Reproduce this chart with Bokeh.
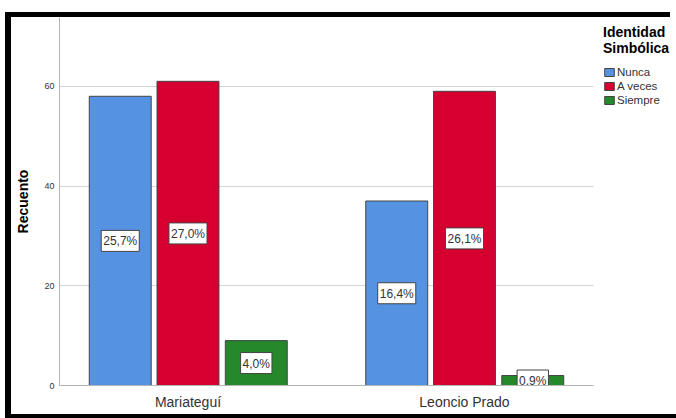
from bokeh.plotting import figure
from bokeh.models import (Range1d, FixedTicker, Legend, LegendItem, ColumnDataSource,
                          BoxAnnotation, GlobalInlineStyleSheet)
from bokeh.core.properties import value
from bokeh.embed import file_html
from bokeh.resources import INLINE
import numpy as np

# ---- data ----
categories = ["Mariateguí", "Leoncio Prado"]
series = ["Nunca", "A veces", "Siempre"]
nunca = [58, 37]
a_veces = [61, 59]
siempre = [9, 2]
nunca_pct = ["25,7%", "16,4%"]
a_veces_pct = ["27,0%", "26,1%"]
siempre_pct = ["4,0%", "0,9%"]
y_ticks = [0, 20, 40, 60]

colors = ["#5592E2", "#D5002F", "#25882B"]
offsets = [-0.245, 0.0, 0.247]
bar_w = 0.224
FONT = "Liberation Sans"

X0, X_DATA_END, X1 = -0.4647, 1.4666, 1.7668   # plot area ends at X_DATA_END

p = figure(width=665, height=397, output_backend="svg",
           toolbar_location=None,
           x_range=Range1d(X0, X1), y_range=Range1d(0, 73.8),
           min_border_left=48, min_border_right=0, min_border_top=0,
           min_border_bottom=29, margin=(17, 0, 0, 11))
# thick black frame around the chart (drawn as shadows, no layout effect)
p.styles = {"box-shadow": "-6px -5px 0 0 #000, 0 4px 0 0 #000, -6px 4px 0 0 #000",
            "overflow": "hidden"}
p.stylesheets = [GlobalInlineStyleSheet(css="html, body { overflow: hidden !important; }")]
p.outline_line_color = None
p.background_fill_color = "white"
p.border_fill_color = "white"

base_x = np.arange(len(categories))
items = []
for name, vals, pcts, col, off in zip(series, [nunca, a_veces, siempre],
                                      [nunca_pct, a_veces_pct, siempre_pct],
                                      colors, offsets):
    src = ColumnDataSource(dict(x=base_x + off, top=vals,
                                mid=np.array(vals) / 2.0, lab=pcts))
    r = p.vbar(x="x", top="top", width=bar_w, bottom=0, source=src,
               fill_color=col, line_color="#444444", line_width=1)
    items.append(LegendItem(label=name, renderers=[r]))
    p.text(x="x", y="mid", text="lab", source=src, text_align="center",
           text_baseline="middle", text_font=value(FONT), text_font_size="12px",
           text_color="#333333", background_fill_color="white",
           border_line_color="#444444", border_line_width=1,
           padding=dict(left=2, right=2, top=4, bottom=3))

# axes
p.xaxis.ticker = FixedTicker(ticks=list(base_x))
p.xaxis.major_label_overrides = {int(i): c for i, c in zip(base_x, categories)}
p.xaxis.bounds = (X0, X_DATA_END)
p.xaxis.major_label_text_font = FONT
p.xaxis.major_label_text_font_size = "14px"
p.xaxis.major_label_text_color = "#333333"
p.xaxis.major_label_standoff = 8
p.xaxis.major_tick_out = 0
p.xaxis.major_tick_in = 0
p.xaxis.minor_tick_out = 0
p.xaxis.minor_tick_in = 0
p.xaxis.axis_line_color = "#b4b4b4"

p.yaxis.ticker = FixedTicker(ticks=y_ticks)
p.yaxis.axis_label = "Recuento"
p.yaxis.axis_label_text_font = FONT
p.yaxis.axis_label_text_font_size = "14px"
p.yaxis.axis_label_text_font_style = "bold"
p.yaxis.axis_label_text_color = "#000000"
p.yaxis.axis_label_standoff = 10
p.yaxis.major_label_text_font = FONT
p.yaxis.major_label_text_font_size = "9px"
p.yaxis.major_label_text_color = "#333333"
p.yaxis.major_label_standoff = 5
p.yaxis.major_tick_out = 0
p.yaxis.major_tick_in = 0
p.yaxis.minor_tick_out = 0
p.yaxis.minor_tick_in = 0
p.yaxis.axis_line_color = "#b4b4b4"

p.xgrid.grid_line_color = None
p.ygrid.grid_line_color = "#d4d4d4"
p.ygrid.grid_line_width = 1

# white area right of the plot region (legend area)
mask = BoxAnnotation(left=X_DATA_END, fill_color="white", fill_alpha=1.0,
                     line_alpha=0)
p.add_layout(mask)

legend = Legend(items=items, location=(544, 279), title="Identidad\nSimbólica")
legend.title_text_font = FONT
legend.title_text_font_size = "14px"
legend.title_text_font_style = "bold"
legend.title_text_color = "#000000"
legend.title_standoff = 10
legend.label_text_font = FONT
legend.label_text_font_size = "11.5px"
legend.label_text_color = "#333333"
legend.glyph_width = 12
legend.glyph_height = 10
legend.label_height = 12
legend.label_standoff = 2
legend.spacing = 2
legend.padding = 0
legend.margin = 0
legend.border_line_color = None
legend.background_fill_color = None
p.add_layout(legend)

open("out.html", "w").write(file_html(p, INLINE))
